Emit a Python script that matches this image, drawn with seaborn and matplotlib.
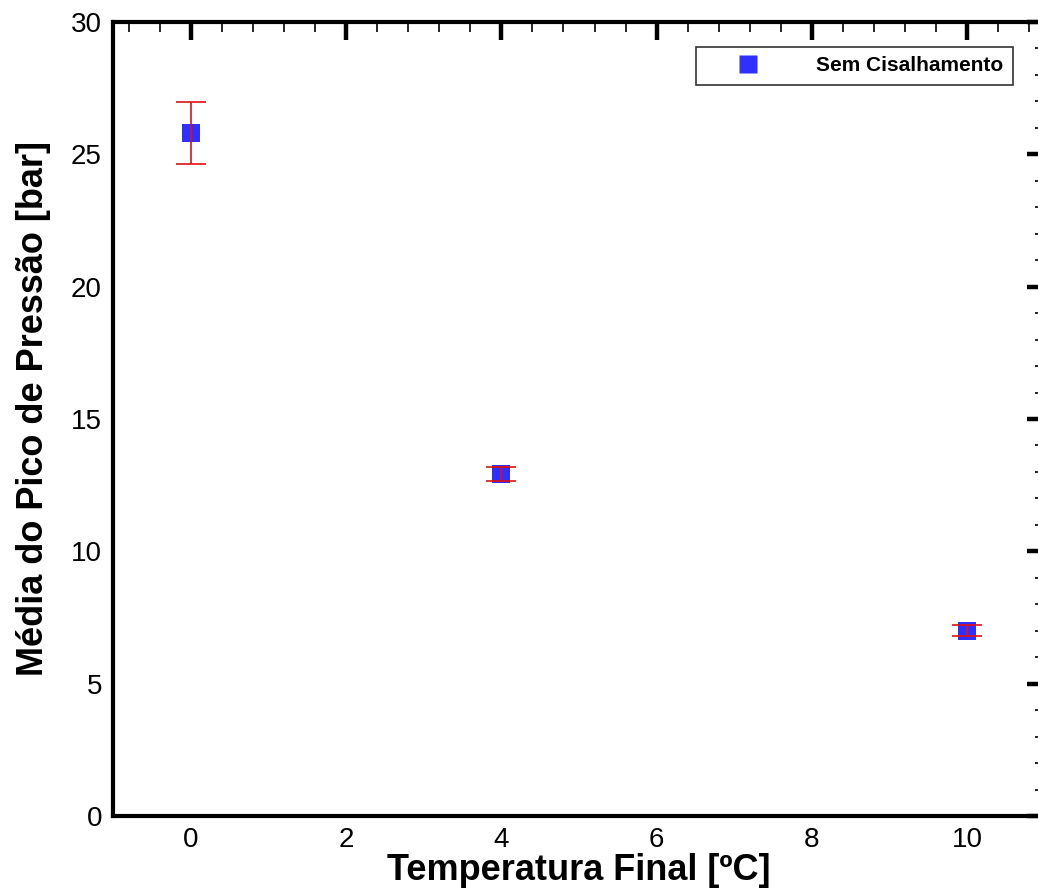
import matplotlib
matplotlib.use("Agg")
import matplotlib.pyplot as plt
from matplotlib.ticker import MultipleLocator
import seaborn as sns
import pandas as pd

# Dados medidos
temperatura = [0, 4, 10]
pico_medio = [25.8, 12.92, 7.0]
desvio = [1.17, 0.26, 0.2]
serie = "Sem Cisalhamento"

sns.set_theme(style="white")
plt.rcParams["font.family"] = ["Liberation Sans", "DejaVu Sans"]
plt.rcParams["text.color"] = "black"
plt.rcParams["axes.labelcolor"] = "black"

df = pd.DataFrame({"T": temperatura, "P": pico_medio, "err": desvio, "serie": serie})

fig = plt.figure(figsize=(10.38, 8.88), dpi=100)
ax = fig.add_axes([113 / 1038, 72 / 888, 932 / 1038, 794 / 888])

ax.errorbar(df["T"], df["P"], yerr=df["err"], fmt="none", ecolor="#e01010",
            elinewidth=1.2, capsize=11, capthick=1.2, zorder=3)
sns.scatterplot(data=df, x="T", y="P", hue="serie", palette=["#2f2fff"],
                marker="s", s=170, edgecolor="none", ax=ax, zorder=2)

ax.set_xlim(-1, 11)
ax.set_ylim(0, 30)
ax.xaxis.set_major_locator(MultipleLocator(2))
ax.xaxis.set_minor_locator(MultipleLocator(0.4))
ax.yaxis.set_major_locator(MultipleLocator(5))
ax.yaxis.set_minor_locator(MultipleLocator(1))

for s in ax.spines.values():
    s.set_color("black")
    s.set_linewidth(3)
ax.tick_params(which="both", direction="in", top=True, right=True,
               color="black", labelsize=20, labelcolor="black")
ax.tick_params(which="major", length=13, width=3.2, pad=8)
ax.tick_params(which="minor", length=7, width=1.2)

ax.set_xlabel("Temperatura Final [ºC]", fontsize=26, fontweight="bold", labelpad=0)
ax.set_ylabel("Média do Pico de Pressão [bar]", fontsize=26, fontweight="bold")
ax.yaxis.set_label_coords(-0.067, 0.513)

leg = ax.legend(loc="upper right", bbox_to_anchor=(1 - 32 / 932, 1 - 25 / 794),
                borderaxespad=0, frameon=True, fancybox=False, shadow=False,
                markerscale=0.95, handlelength=4.1, handletextpad=1.25,
                borderpad=0.45, prop={"weight": "bold", "size": 15})
leg.get_frame().set_edgecolor("black")
leg.get_frame().set_linewidth(1.2)

fig.savefig("out.png", dpi=100)
